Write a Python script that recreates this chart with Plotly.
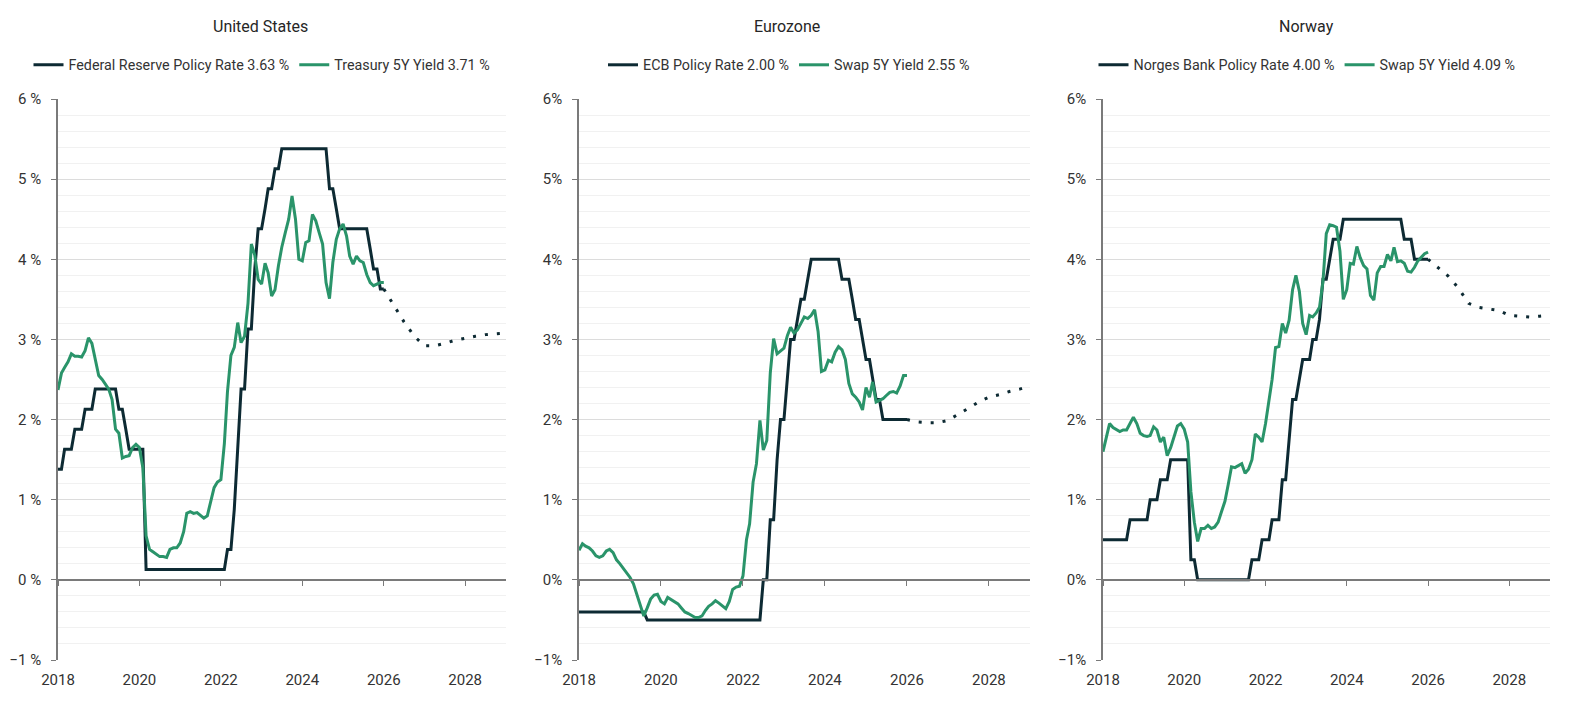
import plotly.graph_objects as go
import pandas as pd

# ---------------- data ----------------
months = pd.date_range("2018-01-01", "2026-01-01", freq="MS").strftime("%Y-%m-%d").tolist()
forecast_dates = ["2026-01-01", "2026-04-01", "2026-07-01", "2026-10-01", "2027-01-01",
                  "2027-04-01", "2027-07-01", "2027-10-01", "2028-01-01", "2028-04-01",
                  "2028-07-01", "2028-10-01", "2029-01-01"]

panel_titles = ["United States", "Eurozone", "Norway"]
policy_names = ["Federal Reserve Policy Rate 3.63 %", "ECB Policy Rate 2.00 %", "Norges Bank Policy Rate 4.00 %"]
yield_names = ["Treasury 5Y Yield 3.71 %", "Swap 5Y Yield 2.55 %", "Swap 5Y Yield 4.09 %"]
tick_suffixes = [" %", "%", "%"]
year_ticks = ["2018-01-01", "2020-01-01", "2022-01-01", "2024-01-01", "2026-01-01", "2028-01-01"]
year_labels = ["2018", "2020", "2022", "2024", "2026", "2028"]

us_policy = [1.38, 1.38, 1.63, 1.63, 1.63, 1.88, 1.88, 1.88, 2.13, 2.13,
             2.13, 2.38, 2.38, 2.38, 2.38, 2.38, 2.38, 2.38, 2.13, 2.13,
             1.88, 1.63, 1.63, 1.63, 1.63, 1.63, 0.13, 0.13, 0.13, 0.13,
             0.13, 0.13, 0.13, 0.13, 0.13, 0.13, 0.13, 0.13, 0.13, 0.13,
             0.13, 0.13, 0.13, 0.13, 0.13, 0.13, 0.13, 0.13, 0.13, 0.13,
             0.38, 0.38, 0.88, 1.63, 2.38, 2.38, 3.13, 3.13, 3.88, 4.38,
             4.38, 4.63, 4.88, 4.88, 5.13, 5.13, 5.38, 5.38, 5.38, 5.38,
             5.38, 5.38, 5.38, 5.38, 5.38, 5.38, 5.38, 5.38, 5.38, 5.38,
             4.88, 4.88, 4.63, 4.38, 4.38, 4.38, 4.38, 4.38, 4.38, 4.38,
             4.38, 4.38, 4.13, 3.88, 3.88, 3.63, 3.63]
us_yield = [2.37, 2.58, 2.65, 2.72, 2.82, 2.79, 2.79, 2.78, 2.86, 3.02,
            2.95, 2.75, 2.55, 2.50, 2.45, 2.38, 2.25, 1.88, 1.83, 1.52,
            1.54, 1.55, 1.65, 1.69, 1.65, 1.40, 0.55, 0.38, 0.35, 0.32,
            0.29, 0.29, 0.28, 0.38, 0.40, 0.40, 0.46, 0.60, 0.83, 0.85,
            0.83, 0.84, 0.80, 0.77, 0.80, 0.98, 1.15, 1.22, 1.25, 1.70,
            2.35, 2.80, 2.90, 3.21, 2.96, 3.04, 3.45, 4.19, 4.05, 3.75,
            3.69, 3.95, 3.83, 3.54, 3.62, 3.92, 4.15, 4.33, 4.50, 4.79,
            4.50, 4.00, 3.98, 4.21, 4.23, 4.56, 4.48, 4.33, 4.19, 3.71,
            3.51, 3.96, 4.25, 4.38, 4.44, 4.29, 4.04, 3.94, 4.04, 3.98,
            3.96, 3.81, 3.71, 3.67, 3.69, 3.71, 3.71]
us_forecast = [3.63, 3.42, 3.22, 3.04, 2.92, 2.92, 2.95, 2.99, 3.02, 3.04, 3.06, 3.07, 3.08]

ez_policy = [-0.40, -0.40, -0.40, -0.40, -0.40, -0.40, -0.40, -0.40, -0.40, -0.40,
             -0.40, -0.40, -0.40, -0.40, -0.40, -0.40, -0.40, -0.40, -0.40, -0.40,
             -0.50, -0.50, -0.50, -0.50, -0.50, -0.50, -0.50, -0.50, -0.50, -0.50,
             -0.50, -0.50, -0.50, -0.50, -0.50, -0.50, -0.50, -0.50, -0.50, -0.50,
             -0.50, -0.50, -0.50, -0.50, -0.50, -0.50, -0.50, -0.50, -0.50, -0.50,
             -0.50, -0.50, -0.50, -0.50, 0.00, 0.00, 0.75, 0.75, 1.50, 2.00,
             2.00, 2.50, 3.00, 3.00, 3.25, 3.50, 3.50, 3.75, 4.00, 4.00,
             4.00, 4.00, 4.00, 4.00, 4.00, 4.00, 4.00, 3.75, 3.75, 3.75,
             3.50, 3.25, 3.25, 3.00, 2.75, 2.75, 2.50, 2.25, 2.25, 2.00,
             2.00, 2.00, 2.00, 2.00, 2.00, 2.00, 2.00]
ez_yield = [0.37, 0.45, 0.42, 0.40, 0.36, 0.30, 0.28, 0.30, 0.36, 0.38,
            0.34, 0.25, 0.20, 0.14, 0.08, 0.03, -0.05, -0.18, -0.32, -0.45,
            -0.35, -0.24, -0.19, -0.18, -0.27, -0.30, -0.22, -0.25, -0.28, -0.30,
            -0.35, -0.40, -0.42, -0.45, -0.47, -0.47, -0.45, -0.38, -0.33, -0.30,
            -0.26, -0.29, -0.33, -0.36, -0.27, -0.12, -0.09, -0.08, 0.05, 0.50,
            0.70, 1.22, 1.45, 1.99, 1.62, 1.74, 2.58, 3.01, 2.82, 2.86,
            2.89, 3.05, 3.15, 3.08, 3.12, 3.20, 3.28, 3.26, 3.30, 3.37,
            3.10, 2.60, 2.62, 2.74, 2.72, 2.84, 2.91, 2.87, 2.75, 2.45,
            2.32, 2.28, 2.22, 2.12, 2.40, 2.28, 2.47, 2.22, 2.24, 2.26,
            2.30, 2.34, 2.35, 2.33, 2.42, 2.55, 2.55]
ez_forecast = [2.00, 1.97, 1.96, 1.96, 1.99, 2.06, 2.14, 2.22, 2.28, 2.31, 2.35, 2.38, 2.42]

no_policy = [0.50, 0.50, 0.50, 0.50, 0.50, 0.50, 0.50, 0.50, 0.75, 0.75,
             0.75, 0.75, 0.75, 0.75, 1.00, 1.00, 1.00, 1.25, 1.25, 1.25,
             1.50, 1.50, 1.50, 1.50, 1.50, 1.50, 0.25, 0.25, 0.00, 0.00,
             0.00, 0.00, 0.00, 0.00, 0.00, 0.00, 0.00, 0.00, 0.00, 0.00,
             0.00, 0.00, 0.00, 0.00, 0.25, 0.25, 0.25, 0.50, 0.50, 0.50,
             0.75, 0.75, 0.75, 1.25, 1.25, 1.75, 2.25, 2.25, 2.50, 2.75,
             2.75, 2.75, 3.00, 3.00, 3.25, 3.75, 3.75, 4.00, 4.25, 4.25,
             4.25, 4.50, 4.50, 4.50, 4.50, 4.50, 4.50, 4.50, 4.50, 4.50,
             4.50, 4.50, 4.50, 4.50, 4.50, 4.50, 4.50, 4.50, 4.50, 4.25,
             4.25, 4.25, 4.00, 4.00, 4.00, 4.00, 4.00]
no_yield = [1.60, 1.80, 1.95, 1.90, 1.87, 1.85, 1.87, 1.87, 1.95, 2.03,
            1.95, 1.83, 1.80, 1.79, 1.80, 1.91, 1.87, 1.72, 1.78, 1.55,
            1.65, 1.80, 1.92, 1.95, 1.88, 1.72, 1.10, 0.72, 0.48, 0.64,
            0.64, 0.68, 0.64, 0.66, 0.72, 0.85, 0.98, 1.20, 1.41, 1.40,
            1.42, 1.45, 1.33, 1.38, 1.50, 1.82, 1.78, 1.72, 1.95, 2.25,
            2.50, 2.90, 2.91, 3.20, 3.08, 3.24, 3.62, 3.80, 3.60, 3.20,
            3.06, 3.30, 3.28, 3.33, 3.40, 3.72, 4.32, 4.43, 4.42, 4.40,
            4.10, 3.50, 3.62, 3.95, 3.94, 4.16, 4.02, 3.92, 3.88, 3.55,
            3.49, 3.83, 3.91, 3.91, 4.06, 3.98, 4.15, 3.97, 3.98, 3.95,
            3.85, 3.84, 3.90, 3.98, 4.03, 4.07, 4.09]
no_forecast = [4.00, 3.90, 3.79, 3.64, 3.45, 3.40, 3.38, 3.36, 3.30, 3.29, 3.28, 3.29, 3.30]

policy_series = [us_policy, ez_policy, no_policy]
yield_series = [us_yield, ez_yield, no_yield]
forecast_series = [us_forecast, ez_forecast, no_forecast]

# ---------------- styling / layout ----------------
# The page body has an 8px default margin, so figure coordinates are
# screen coordinates minus 8 and the figure is 16px smaller than the window.
OFF = 8
W, H = 1574 - 2 * OFF, 713 - 2 * OFF
NAVY = "#0d2a33"
GREEN = "#2a946a"
AXIS = "#7a7a7a"
FONT = "Roboto, Liberation Sans, sans-serif"
TEXT = "#333333"

x_px = [(58, 506), (579, 1030), (1103, 1550)]
title_px = [260, 787, 1306]
legend_px = [262, 789, 1307]
y_top_px, y_bot_px = 99, 660
title_y_px, legend_y_px = 26, 65

def fx(px):
    return (px - OFF) / W

def fy(px):
    return 1 - (px - OFF) / H

ydom = [fy(y_bot_px), fy(y_top_px)]
y_min, y_max = -1, 6
zero_pos = ydom[0] + (0 - y_min) / (y_max - y_min) * (ydom[1] - ydom[0])
x_range = ["2018-01-01", "2029-01-01"]

fig = go.Figure()
layout = dict(
    width=W, height=H,
    margin=dict(l=0, r=0, t=0, b=0, autoexpand=False),
    paper_bgcolor="white", plot_bgcolor="white",
    font=dict(family=FONT, size=14, color=TEXT),
    hovermode=False,
    annotations=[],
)

for i in range(3):
    n = i + 1
    xa = "x" if n == 1 else f"x{n}"
    ya = "y" if n == 1 else f"y{n}"
    xz = f"x{n + 3}"
    leg = "legend" if n == 1 else f"legend{n}"
    dom = [fx(x_px[i][0]), fx(x_px[i][1])]

    fig.add_trace(go.Scatter(x=months, y=policy_series[i], name=policy_names[i], mode="lines",
                             line=dict(color=NAVY, width=3), xaxis=xa, yaxis=ya, legend=leg))
    fig.add_trace(go.Scatter(x=forecast_dates, y=forecast_series[i], mode="lines", showlegend=False,
                             line=dict(color=NAVY, width=3, dash="3px,9px"), xaxis=xa, yaxis=ya))
    fig.add_trace(go.Scatter(x=months, y=yield_series[i], name=yield_names[i], mode="lines",
                             line=dict(color=GREEN, width=3), xaxis=xa, yaxis=ya, legend=leg))
    # helper trace so the zero-level axis (line + ticks) is drawn
    fig.add_trace(go.Scatter(x=months[:1], y=policy_series[i][:1], mode="lines", showlegend=False,
                             line=dict(width=0), xaxis=xz, yaxis=ya, hoverinfo="skip"))

    layout["xaxis" if n == 1 else f"xaxis{n}"] = dict(
        domain=dom, anchor=ya, type="date", range=x_range, automargin=False,
        tickmode="array", tickvals=year_ticks, ticktext=year_labels,
        showline=False, ticks="", showgrid=False, zeroline=False,
        ticklabelstandoff=9, tickfont=dict(size=15, color=TEXT),
    )
    layout[f"xaxis{n + 3}"] = dict(
        overlaying=xa, anchor="free", position=zero_pos, type="date", range=x_range,
        tickmode="array", tickvals=year_ticks, showticklabels=False, automargin=False,
        showline=True, linecolor=AXIS, linewidth=1.5, ticks="outside", ticklen=5,
        tickcolor=AXIS, tickwidth=1.2, showgrid=False, zeroline=False,
    )
    layout["yaxis" if n == 1 else f"yaxis{n}"] = dict(
        domain=ydom, anchor=xa, range=[y_min, y_max], tick0=0, dtick=1, automargin=False,
        ticksuffix=tick_suffixes[i], showline=True, linecolor=AXIS, linewidth=1.5,
        ticks="outside", ticklen=5, tickcolor=AXIS, tickwidth=1.2,
        showgrid=True, gridcolor="#dcdcdc", gridwidth=1, zeroline=False,
        minor=dict(dtick=0.2, tick0=0, showgrid=True, gridcolor="#f1f1f1", gridwidth=1, ticks=""),
        ticklabelstandoff=7, tickfont=dict(size=15, color=TEXT),
    )
    layout[leg] = dict(
        orientation="h", x=fx(legend_px[i]), xanchor="center", y=fy(legend_y_px), yanchor="middle",
        font=dict(size=14.3, color=TEXT), bgcolor="rgba(0,0,0,0)", itemwidth=30,
        tracegroupgap=0,
    )
    layout["annotations"].append(dict(
        text=panel_titles[i], x=fx(title_px[i]), y=fy(title_y_px), xref="paper", yref="paper",
        xanchor="center", yanchor="middle", showarrow=False,
        font=dict(size=16, color="#262626", family=FONT),
    ))

fig.update_layout(**layout)
fig.write_html("out.html")
